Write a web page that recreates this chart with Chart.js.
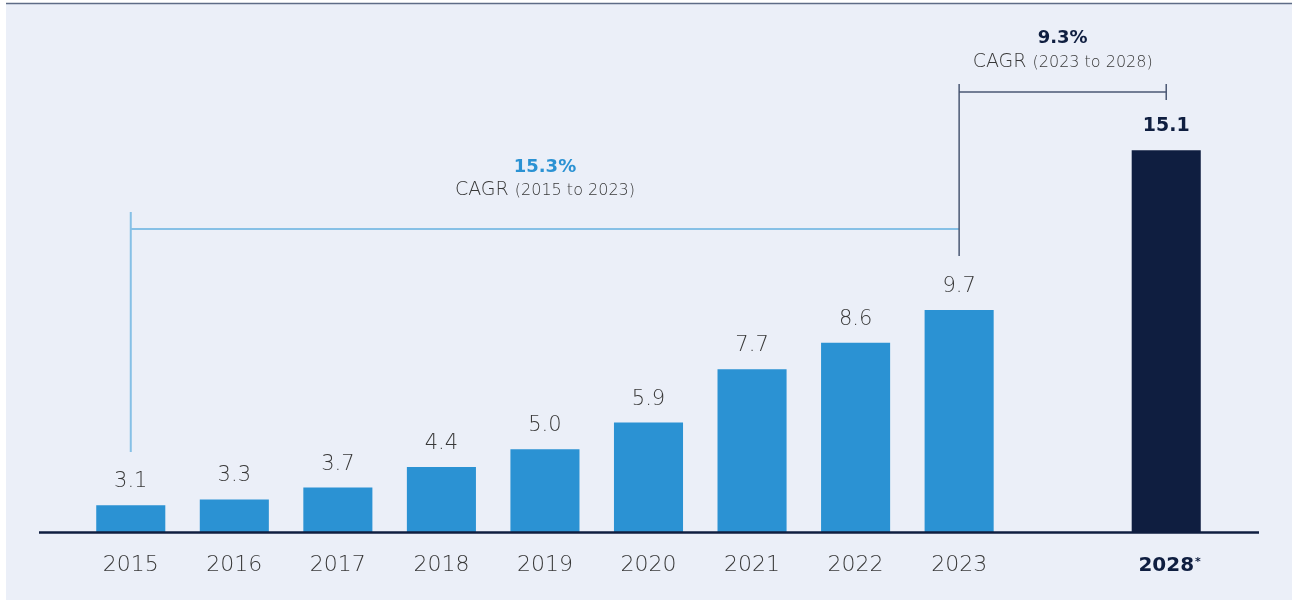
<!DOCTYPE html>
<html><head><meta charset="utf-8">
<style>html,body{margin:0;padding:0;background:#fff;overflow:hidden}canvas{display:block}</style>
<script src="https://cdn.jsdelivr.net/npm/chart.js@4/dist/chart.umd.min.js"></script>
</head><body><canvas id="c" width="1292" height="600"></canvas>
<script>
// ---- data ----
const categories = ['2015','2016','2017','2018','2019','2020','2021','2022','2023','','2028'];
const values = [3.1,3.3,3.7,4.4,5.0,5.9,7.7,8.6,9.7,null,15.1];
const valueLabels = ['3.1','3.3','3.7','4.4','5.0','5.9','7.7','8.6','9.7','','15.1'];
const forecastCategory = '2028';
const cagrHistorical = ['15.3%','CAGR','(2015 to 2023)','2015','2023'];
const cagrForecast = ['9.3%','CAGR','(2023 to 2028)','2023','2028'];
const yMin = 2.2, yMax = 16.8;

const BLUE = '#2B92D3', NAVY = '#0F1E40', GREY = '#383838';
const FONT = "'DejaVu Sans', sans-serif";
const LIGHT = 200;

const barColors = categories.map(c => c === forecastCategory ? NAVY : BLUE);

const decor = {
  id: 'decor',
  beforeDraw(chart) {
    const ctx = chart.ctx;
    ctx.save();
    ctx.fillStyle = '#ffffff';
    ctx.fillRect(0, 0, chart.width, chart.height);
    ctx.fillStyle = '#EBEFF8';
    ctx.fillRect(6, 3, chart.width - 6, chart.height - 3);
    ctx.strokeStyle = '#5E6C86';
    ctx.lineWidth = 1.5;
    ctx.beginPath(); ctx.moveTo(6, 3.5); ctx.lineTo(chart.width, 3.5); ctx.stroke();
    ctx.restore();
  },
  afterDatasetsDraw(chart) {
    const ctx = chart.ctx;
    const xs = chart.scales.x;
    const area = chart.chartArea;
    const meta = chart.getDatasetMeta(0);
    const px = lbl => xs.getPixelForValue(categories.indexOf(lbl));
    ctx.save();
    // baseline
    ctx.strokeStyle = NAVY; ctx.lineWidth = 2.5;
    ctx.beginPath(); ctx.moveTo(39, area.bottom + 0.5); ctx.lineTo(1259, area.bottom + 0.5); ctx.stroke();

    // value labels
    ctx.textAlign = 'center'; ctx.textBaseline = 'alphabetic';
    meta.data.forEach((bar, i) => {
      if (values[i] == null) return;
      if (categories[i] === forecastCategory) {
        ctx.font = `bold 19px ${FONT}`; ctx.fillStyle = NAVY;
        ctx.fillText(valueLabels[i], bar.x, bar.y - 19);
      } else {
        ctx.font = `${LIGHT} 21px ${FONT}`; ctx.fillStyle = GREY;
        ctx.fillText(valueLabels[i], bar.x, bar.y - 18);
      }
    });

    // historical CAGR bracket
    const h1 = px(cagrHistorical[3]), h2 = px(cagrHistorical[4]);
    ctx.strokeStyle = '#86C0E6'; ctx.lineWidth = 2;
    ctx.beginPath();
    ctx.moveTo(h1, 212); ctx.lineTo(h1, 452);
    ctx.moveTo(h1, 229); ctx.lineTo(h2, 229);
    ctx.stroke();
    // forecast CAGR bracket
    const f1 = px(cagrForecast[3]), f2 = px(cagrForecast[4]);
    ctx.strokeStyle = '#4B5874'; ctx.lineWidth = 1.5;
    ctx.beginPath();
    ctx.moveTo(f1, 84); ctx.lineTo(f1, 256);
    ctx.moveTo(f1, 92); ctx.lineTo(f2, 92);
    ctx.moveTo(f2, 84); ctx.lineTo(f2, 100);
    ctx.stroke();

    const cagrText = (arr, cx, y1, y2, color) => {
      ctx.textAlign = 'center';
      ctx.font = `bold 18px ${FONT}`; ctx.fillStyle = color;
      ctx.fillText(arr[0], cx, y1);
      ctx.font = `${LIGHT} 19px ${FONT}`;
      const w1 = ctx.measureText(arr[1] + ' ').width;
      ctx.font = `${LIGHT} 16px ${FONT}`;
      const w2 = ctx.measureText(arr[2]).width;
      let x = cx - (w1 + w2) / 2;
      ctx.textAlign = 'left'; ctx.fillStyle = GREY;
      ctx.font = `${LIGHT} 19px ${FONT}`;
      ctx.fillText(arr[1] + ' ', x, y2);
      ctx.font = `${LIGHT} 16px ${FONT}`;
      ctx.fillText(arr[2], x + w1, y2);
    };
    cagrText(cagrHistorical, (h1 + h2) / 2, 172, 195, BLUE);
    cagrText(cagrForecast, (f1 + f2) / 2, 43, 67, NAVY);

    // superscript asterisk on forecast tick
    const fx = px(forecastCategory);
    ctx.font = `bold 20px ${FONT}`;
    const tw = ctx.measureText(forecastCategory).width;
    ctx.font = `bold 11px ${FONT}`; ctx.fillStyle = NAVY; ctx.textAlign = 'left';
    ctx.fillText('*', fx + tw / 2 + 1, 565);
    ctx.restore();
  }
};

new Chart(document.getElementById('c'), {
  type: 'bar',
  data: {
    labels: categories,
    datasets: [{
      data: values,
      backgroundColor: barColors,
      borderWidth: 0,
      barPercentage: 0.667,
      categoryPercentage: 1.0
    }]
  },
  options: {
    responsive: false,
    animation: false,
    events: [],
    layout: { padding: { top: 100, left: 79, right: 74, bottom: 0 } },
    plugins: { legend: { display: false }, tooltip: { enabled: false } },
    scales: {
      x: {
        grid: { display: false, drawTicks: false, tickLength: 0 },
        border: { display: false },
        afterFit(scale) { scale.height = 68; },
        ticks: {
          padding: 20,
          maxRotation: 0,
          autoSkip: false,
          color: ctx => ctx.tick && ctx.tick.label === forecastCategory ? NAVY : GREY,
          font: ctx => ctx.tick && ctx.tick.label === forecastCategory
            ? { family: FONT, size: 20, weight: 'bold', lineHeight: 1.35 }
            : { family: FONT, size: 22, weight: LIGHT, lineHeight: 1.2 }
        }
      },
      y: { display: false, min: yMin, max: yMax }
    }
  },
  plugins: [decor]
});
</script>
</body></html>
